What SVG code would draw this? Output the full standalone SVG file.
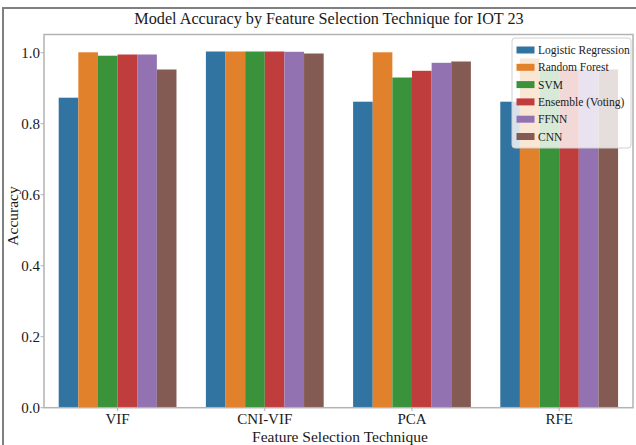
<svg xmlns="http://www.w3.org/2000/svg" width="636" height="445" viewBox="0 0 636 445">
  <style>
    text { font-family: "Liberation Serif", "Times New Roman", serif; fill: #1a1a1a; }
    .title { font-size: 16.2px; text-anchor: middle; }
    .tick { font-size: 15px; }
    .ytick { text-anchor: end; }
    .xtick { text-anchor: middle; }
    .label { font-size: 15.5px; text-anchor: middle; }
    .leg { font-size: 11.5px; }
    .spine { fill: none; stroke: #b3b3b3; stroke-width: 1.5; }
    .tk { stroke: #b3b3b3; stroke-width: 1; }
    .c0 { fill: #3274a1; }
    .c1 { fill: #e1812c; }
    .c2 { fill: #3a923a; }
    .c3 { fill: #c03d3e; }
    .c4 { fill: #9372b2; }
    .c5 { fill: #845b53; }
  </style>

  <!-- outer figure frame -->
  <path d="M3,446 V8 H637" fill="none" stroke="#808080" stroke-width="2"/>

  <text class="title" x="329" y="24">Model Accuracy by Feature Selection Technique for IOT 23</text>

  <!-- bars: y axis 0.0 at 407.7, 355 px per unit; bar width 19.63 -->
  <g id="bars-VIF">
    <rect class="c0" x="58.7" y="97.7" width="19.63" height="310"/>
    <rect class="c1" x="78.33" y="52.3" width="19.63" height="355.4"/>
    <rect class="c2" x="97.96" y="55.7" width="19.63" height="352"/>
    <rect class="c3" x="117.59" y="54.5" width="19.63" height="353.2"/>
    <rect class="c4" x="137.22" y="54.5" width="19.63" height="353.2"/>
    <rect class="c5" x="156.85" y="69.5" width="19.63" height="338.2"/>
  </g>
  <g id="bars-CNI-VIF">
    <rect class="c0" x="205.9" y="51.5" width="19.63" height="356.2"/>
    <rect class="c1" x="225.53" y="51.5" width="19.63" height="356.2"/>
    <rect class="c2" x="245.16" y="51.5" width="19.63" height="356.2"/>
    <rect class="c3" x="264.79" y="51.5" width="19.63" height="356.2"/>
    <rect class="c4" x="284.42" y="51.8" width="19.63" height="355.9"/>
    <rect class="c5" x="304.05" y="53.5" width="19.63" height="354.2"/>
  </g>
  <g id="bars-PCA">
    <rect class="c0" x="353.1" y="101.7" width="19.63" height="306"/>
    <rect class="c1" x="372.73" y="52.3" width="19.63" height="355.4"/>
    <rect class="c2" x="392.36" y="77.5" width="19.63" height="330.2"/>
    <rect class="c3" x="411.99" y="70.8" width="19.63" height="336.9"/>
    <rect class="c4" x="431.62" y="62.8" width="19.63" height="344.9"/>
    <rect class="c5" x="451.25" y="61.5" width="19.63" height="346.2"/>
  </g>
  <g id="bars-RFE">
    <rect class="c0" x="500.3" y="101.7" width="19.63" height="306"/>
    <rect class="c1" x="519.93" y="58.5" width="19.63" height="349.2"/>
    <rect class="c2" x="539.56" y="69.5" width="19.63" height="338.2"/>
    <rect class="c3" x="559.19" y="69.5" width="19.63" height="338.2"/>
    <rect class="c4" x="578.82" y="69.5" width="19.63" height="338.2"/>
    <rect class="c5" x="598.45" y="69.5" width="19.63" height="338.2"/>
  </g>

  <!-- axes frame and ticks -->
  <g id="axes">
    <rect class="spine" x="44" y="34.5" width="589" height="373.2"/>
    <g class="tk">
      <line x1="40.5" y1="52.7" x2="44" y2="52.7"/>
      <line x1="40.5" y1="123.7" x2="44" y2="123.7"/>
      <line x1="40.5" y1="194.7" x2="44" y2="194.7"/>
      <line x1="40.5" y1="265.7" x2="44" y2="265.7"/>
      <line x1="40.5" y1="336.7" x2="44" y2="336.7"/>
      <line x1="40.5" y1="407.7" x2="44" y2="407.7"/>
      <line x1="117.6" y1="407.7" x2="117.6" y2="411.2"/>
      <line x1="264.8" y1="407.7" x2="264.8" y2="411.2"/>
      <line x1="412" y1="407.7" x2="412" y2="411.2"/>
      <line x1="559.2" y1="407.7" x2="559.2" y2="411.2"/>
    </g>
    <text class="tick ytick" x="40" y="57.8">1.0</text>
    <text class="tick ytick" x="40" y="128.8">0.8</text>
    <text class="tick ytick" x="40" y="199.8">0.6</text>
    <text class="tick ytick" x="40" y="270.8">0.4</text>
    <text class="tick ytick" x="40" y="341.8">0.2</text>
    <text class="tick ytick" x="40" y="412.8">0.0</text>
    <text class="tick xtick" x="117.6" y="423.5">VIF</text>
    <text class="tick xtick" x="264.8" y="423.5">CNI-VIF</text>
    <text class="tick xtick" x="412" y="423.5">PCA</text>
    <text class="tick xtick" x="559.2" y="423.5">RFE</text>
    <text class="label" x="340" y="441.5">Feature Selection Technique</text>
    <text class="label" transform="translate(18,216) rotate(-90)">Accuracy</text>
  </g>

  <!-- legend -->
  <g id="legend">
    <rect x="512" y="38" width="119" height="110" rx="3" fill="#ffffff" fill-opacity="0.8" stroke="#d0d0d0" stroke-width="1"/>
    <rect class="c0" x="516.5" y="46.5" width="18" height="7"/>
    <text class="leg" x="538" y="54">Logistic Regression</text>
    <rect class="c1" x="516.5" y="63.8" width="18" height="7"/>
    <text class="leg" x="538" y="71.3">Random Forest</text>
    <rect class="c2" x="516.5" y="81.1" width="18" height="7"/>
    <text class="leg" x="538" y="88.6">SVM</text>
    <rect class="c3" x="516.5" y="98.4" width="18" height="7"/>
    <text class="leg" x="538" y="105.9">Ensemble (Voting)</text>
    <rect class="c4" x="516.5" y="115.7" width="18" height="7"/>
    <text class="leg" x="538" y="123.2">FFNN</text>
    <rect class="c5" x="516.5" y="133" width="18" height="7"/>
    <text class="leg" x="538" y="140.5">CNN</text>
  </g>
</svg>
